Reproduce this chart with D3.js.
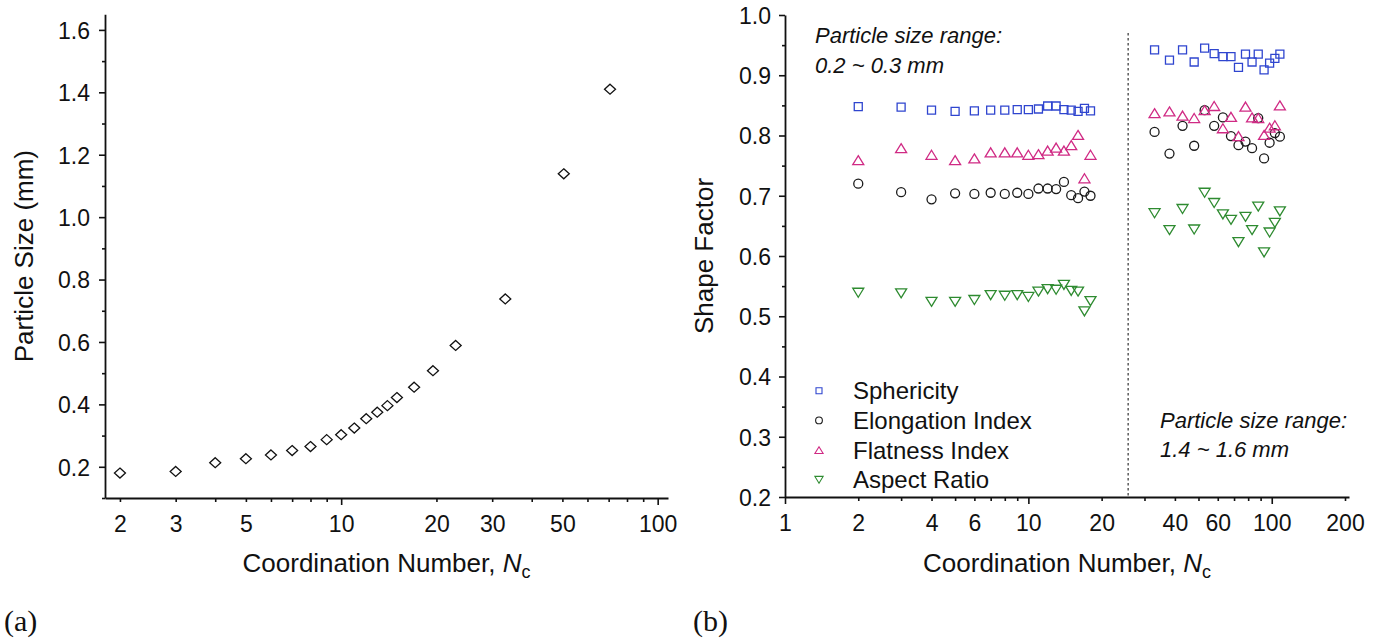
<!DOCTYPE html>
<html>
<head>
<meta charset="utf-8">
<script src="https://cdn.jsdelivr.net/npm/d3@7"></script>
<style>
  html, body { margin: 0; padding: 0; background: #fff; }
  svg { display: block; }
  text { font-family: "Liberation Sans", Arial, sans-serif; fill: #111; }
</style>
</head>
<body>
<svg id="chart" width="1381" height="644"></svg>
<script>
// ---------------- DATA ----------------
// Panel (a): particle size vs coordination number
const ncA = [2, 3, 4, 5, 6, 7, 8, 9, 10, 11, 12, 13, 14, 15, 17, 19.5, 23, 33, 50.5, 70.7];
const sizeA = [0.180, 0.185, 0.213, 0.226, 0.238, 0.252, 0.265, 0.287, 0.303, 0.324, 0.354, 0.375, 0.396, 0.422, 0.455, 0.508, 0.589, 0.738, 1.139, 1.410];

// Panel (b): shape factors, fine (0.2~0.3 mm) and coarse (1.4~1.6 mm) groups
const ncFine = [2, 3, 4, 5, 6, 7, 8, 9, 10, 11, 12, 13, 14, 15, 16, 17, 18];
const sphericityFine = [0.848, 0.847, 0.842, 0.840, 0.841, 0.842, 0.842, 0.843, 0.843, 0.844, 0.849, 0.849, 0.843, 0.842, 0.840, 0.845, 0.841];
const elongationFine = [0.720, 0.706, 0.694, 0.704, 0.703, 0.705, 0.703, 0.705, 0.703, 0.712, 0.712, 0.711, 0.723, 0.701, 0.696, 0.707, 0.700];
const flatnessFine = [0.759, 0.779, 0.768, 0.759, 0.762, 0.772, 0.772, 0.772, 0.768, 0.769, 0.775, 0.780, 0.775, 0.784, 0.801, 0.729, 0.768];
const aspectFine = [0.539, 0.538, 0.524, 0.524, 0.527, 0.535, 0.534, 0.535, 0.532, 0.541, 0.545, 0.544, 0.552, 0.542, 0.541, 0.508, 0.525];

const ncCoarse = [33, 38, 43, 48, 53, 58, 63, 68, 73, 78, 83, 88, 93, 98, 103, 108];
const sphericityCoarse = [0.942, 0.925, 0.942, 0.922, 0.945, 0.936, 0.931, 0.931, 0.913, 0.935, 0.922, 0.935, 0.909, 0.920, 0.928, 0.935];
const elongationCoarse = [0.806, 0.770, 0.816, 0.783, 0.842, 0.816, 0.830, 0.799, 0.784, 0.790, 0.779, 0.829, 0.762, 0.788, 0.804, 0.798];
const flatnessCoarse = [0.837, 0.840, 0.833, 0.829, 0.842, 0.849, 0.812, 0.831, 0.799, 0.848, 0.830, 0.829, 0.801, 0.813, 0.817, 0.850];
const aspectCoarse = [0.671, 0.643, 0.678, 0.644, 0.705, 0.688, 0.669, 0.660, 0.623, 0.665, 0.643, 0.682, 0.606, 0.639, 0.655, 0.674];

const seriesNames = ["Sphericity", "Elongation Index", "Flatness Index", "Aspect Ratio"];
const dividerNc = 25.7;

// Tick definitions
const xTicksA = [2, 3, 4, 5, 6, 7, 8, 9, 10, 20, 30, 40, 50, 60, 70, 80, 90, 100];
const xLabelsA = [2, 3, 5, 10, 20, 30, 50, 100];
const yTicksA = [0.1, 0.2, 0.3, 0.4, 0.5, 0.6, 0.7, 0.8, 0.9, 1.0, 1.1, 1.2, 1.3, 1.4, 1.5, 1.6];
const yLabelsA = [0.2, 0.4, 0.6, 0.8, 1.0, 1.2, 1.4, 1.6];
const xTicksB = [1, 2, 3, 4, 5, 6, 7, 8, 9, 10, 20, 30, 40, 50, 60, 70, 80, 90, 100, 200];
const xLabelsB = [1, 2, 4, 6, 10, 20, 40, 60, 100, 200];
const yTicksB = [0.2, 0.25, 0.3, 0.35, 0.4, 0.45, 0.5, 0.55, 0.6, 0.65, 0.7, 0.75, 0.8, 0.85, 0.9, 0.95, 1.0];
const yLabelsB = [0.2, 0.3, 0.4, 0.5, 0.6, 0.7, 0.8, 0.9, 1.0];

// ---------------- STYLE ----------------
const colors = { "Sphericity": "#2f45cf", "Elongation Index": "#1a1a1a", "Flatness Index": "#d02a84", "Aspect Ratio": "#2e8b30" };
const TICK_FONT = 23, TITLE_FONT = 26, LEGEND_FONT = 24, NOTE_FONT = 22;

const svg = d3.select("#chart");
const near = (a, list) => list.some(v => Math.abs(v - a) < 1e-9);
const isDecade = d => Math.abs(Math.log10(d) - Math.round(Math.log10(d))) < 1e-9;

// marker path builders (centered at 0,0)
function markerPath(type, s) {
  const p = d3.path();
  if (type === "square") { p.rect(-s / 2, -s / 2, s, s); }
  else if (type === "circle") { p.moveTo(s / 2, 0); p.arc(0, 0, s / 2, 0, 2 * Math.PI); }
  else if (type === "up") { p.moveTo(0, -s * 0.45); p.lineTo(s * 0.55, s * 0.45); p.lineTo(-s * 0.55, s * 0.45); p.closePath(); }
  else if (type === "down") { p.moveTo(0, s * 0.45); p.lineTo(s * 0.55, -s * 0.45); p.lineTo(-s * 0.55, -s * 0.45); p.closePath(); }
  else if (type === "diamond") { p.moveTo(0, -s * 0.5); p.lineTo(s * 0.55, 0); p.lineTo(0, s * 0.5); p.lineTo(-s * 0.55, 0); p.closePath(); }
  return p.toString();
}

function styleAxis(g) {
  g.select(".domain").attr("stroke", "#111").attr("stroke-width", 1.8);
  g.selectAll(".tick line").attr("stroke", "#111").attr("stroke-width", 1.6);
  g.selectAll(".tick text").attr("font-size", TICK_FONT).attr("font-family", '"Liberation Sans", Arial, sans-serif').attr("fill", "#111");
}

// ================= PANEL (a) =================
const xA = d3.scaleLog().domain([1.794, 107.8]).range([105, 668]);
const yA = d3.scaleLinear().domain([0.1, 1.65]).range([498, 14.3]);

const gxA = svg.append("g").attr("transform", `translate(0,${yA(0.1)})`)
  .call(d3.axisBottom(xA).tickValues(xTicksA).tickSize(4).tickSizeOuter(0).tickPadding(14)
    .tickFormat(d => near(d, xLabelsA) ? String(d) : ""));
styleAxis(gxA);
gxA.selectAll(".tick line").filter(d => isDecade(d)).attr("y2", 7);

const gyA = svg.append("g").attr("transform", `translate(${xA(1.794)},0)`)
  .call(d3.axisLeft(yA).tickValues(yTicksA).tickSize(3).tickSizeOuter(0).tickPadding(12)
    .tickFormat(d => near(d, yLabelsA) ? d3.format(".1f")(d) : ""));
styleAxis(gyA);
gyA.selectAll(".tick line").filter(d => near(d, yLabelsA)).attr("x2", -6);
gyA.selectAll(".tick text").attr("dy", "0.36em");

svg.append("g").selectAll("path").data(ncA.map((n, i) => ({ n, v: sizeA[i] }))).join("path")
  .attr("d", markerPath("diamond", 10))
  .attr("transform", d => `translate(${xA(d.n)},${yA(d.v)})`)
  .attr("fill", "none").attr("stroke", "#111").attr("stroke-width", 1.3);

svg.append("text").attr("transform", `translate(32.5,${(yA(0.1) + yA(1.65)) / 2}) rotate(-90)`)
  .attr("text-anchor", "middle").attr("font-size", TITLE_FONT).text("Particle Size (mm)");

const xtA = svg.append("text").attr("x", (xA(1.794) + xA(107.8)) / 2).attr("y", 571.5)
  .attr("text-anchor", "middle").attr("font-size", TITLE_FONT);
xtA.append("tspan").text("Coordination Number, ");
xtA.append("tspan").attr("font-style", "italic").text("N");
xtA.append("tspan").attr("font-size", 18).attr("dy", 6).text("c");

svg.append("text").attr("x", 4).attr("y", 631).attr("font-size", 30)
  .style("font-family", '"Liberation Serif", "Times New Roman", serif').text("(a)");

// ================= PANEL (b) =================
const xB = d3.scaleLog().domain([1, 207.7]).range([785, 1349]);
const yB = d3.scaleLinear().domain([0.2, 1.0]).range([497, 15]);

const gxB = svg.append("g").attr("transform", `translate(0,${yB(0.2)})`)
  .call(d3.axisBottom(xB).tickValues(xTicksB).tickSize(4).tickSizeOuter(0).tickPadding(14)
    .tickFormat(d => near(d, xLabelsB) ? String(d) : ""));
styleAxis(gxB);
gxB.selectAll(".tick line").filter(d => isDecade(d)).attr("y2", 7);

const gyB = svg.append("g").attr("transform", `translate(${xB(1)},0)`)
  .call(d3.axisLeft(yB).tickValues(yTicksB).tickSize(3).tickSizeOuter(0).tickPadding(11)
    .tickFormat(d => near(d, yLabelsB) ? d3.format(".1f")(d) : ""));
styleAxis(gyB);
gyB.selectAll(".tick line").filter(d => near(d, yLabelsB)).attr("x2", -6);
gyB.selectAll(".tick text").attr("dy", "0.36em");

// divider line between the two particle-size groups
svg.append("line").attr("x1", xB(dividerNc)).attr("x2", xB(dividerNc))
  .attr("y1", yB(0.97)).attr("y2", yB(0.2))
  .attr("stroke", "#333").attr("stroke-width", 1.2).attr("stroke-dasharray", "2.5,2.5");

const seriesDefs = [
  { name: "Sphericity", shape: "square", size: 8, fine: sphericityFine, coarse: sphericityCoarse },
  { name: "Elongation Index", shape: "circle", size: 9, fine: elongationFine, coarse: elongationCoarse },
  { name: "Flatness Index", shape: "up", size: 10, fine: flatnessFine, coarse: flatnessCoarse },
  { name: "Aspect Ratio", shape: "down", size: 10, fine: aspectFine, coarse: aspectCoarse }
];

seriesDefs.forEach(s => {
  const pts = ncFine.map((n, i) => ({ n, v: s.fine[i] }))
    .concat(ncCoarse.map((n, i) => ({ n, v: s.coarse[i] })));
  svg.append("g").selectAll("path").data(pts).join("path")
    .attr("d", markerPath(s.shape, s.size))
    .attr("transform", d => `translate(${xB(d.n)},${yB(d.v)})`)
    .attr("fill", "none").attr("stroke", colors[s.name]).attr("stroke-width", 1.3);
});

// legend
const legend = svg.append("g");
seriesDefs.forEach((s, i) => {
  const yy = 390.7 + i * 29.7;
  legend.append("path").attr("d", markerPath(s.shape, s.size * 0.75))
    .attr("transform", `translate(819,${yy})`)
    .attr("fill", "none").attr("stroke", colors[s.name]).attr("stroke-width", 1.1);
  legend.append("text").attr("x", 853).attr("y", yy).attr("dy", "0.36em")
    .attr("font-size", LEGEND_FONT).text(seriesNames[i]);
});

// annotations
const noteFine = svg.append("text").attr("font-size", NOTE_FONT).attr("font-style", "italic");
noteFine.append("tspan").attr("x", 815).attr("y", 43).text("Particle size range:");
noteFine.append("tspan").attr("x", 815).attr("y", 72.5).text("0.2 ~ 0.3 mm");
const noteCoarse = svg.append("text").attr("font-size", NOTE_FONT).attr("font-style", "italic");
noteCoarse.append("tspan").attr("x", 1160).attr("y", 428).text("Particle size range:");
noteCoarse.append("tspan").attr("x", 1160).attr("y", 457).text("1.4 ~ 1.6 mm");

const xtB = svg.append("text").attr("x", (xB(1) + xB(207.7)) / 2).attr("y", 571.5)
  .attr("text-anchor", "middle").attr("font-size", TITLE_FONT);
xtB.append("tspan").text("Coordination Number, ");
xtB.append("tspan").attr("font-style", "italic").text("N");
xtB.append("tspan").attr("font-size", 18).attr("dy", 6).text("c");

svg.append("text").attr("transform", `translate(713,${(yB(0.2) + yB(1.0)) / 2}) rotate(-90)`)
  .attr("text-anchor", "middle").attr("font-size", TITLE_FONT).text("Shape Factor");

svg.append("text").attr("x", 693).attr("y", 631).attr("font-size", 30)
  .style("font-family", '"Liberation Serif", "Times New Roman", serif').text("(b)");
</script>
</body>
</html>
